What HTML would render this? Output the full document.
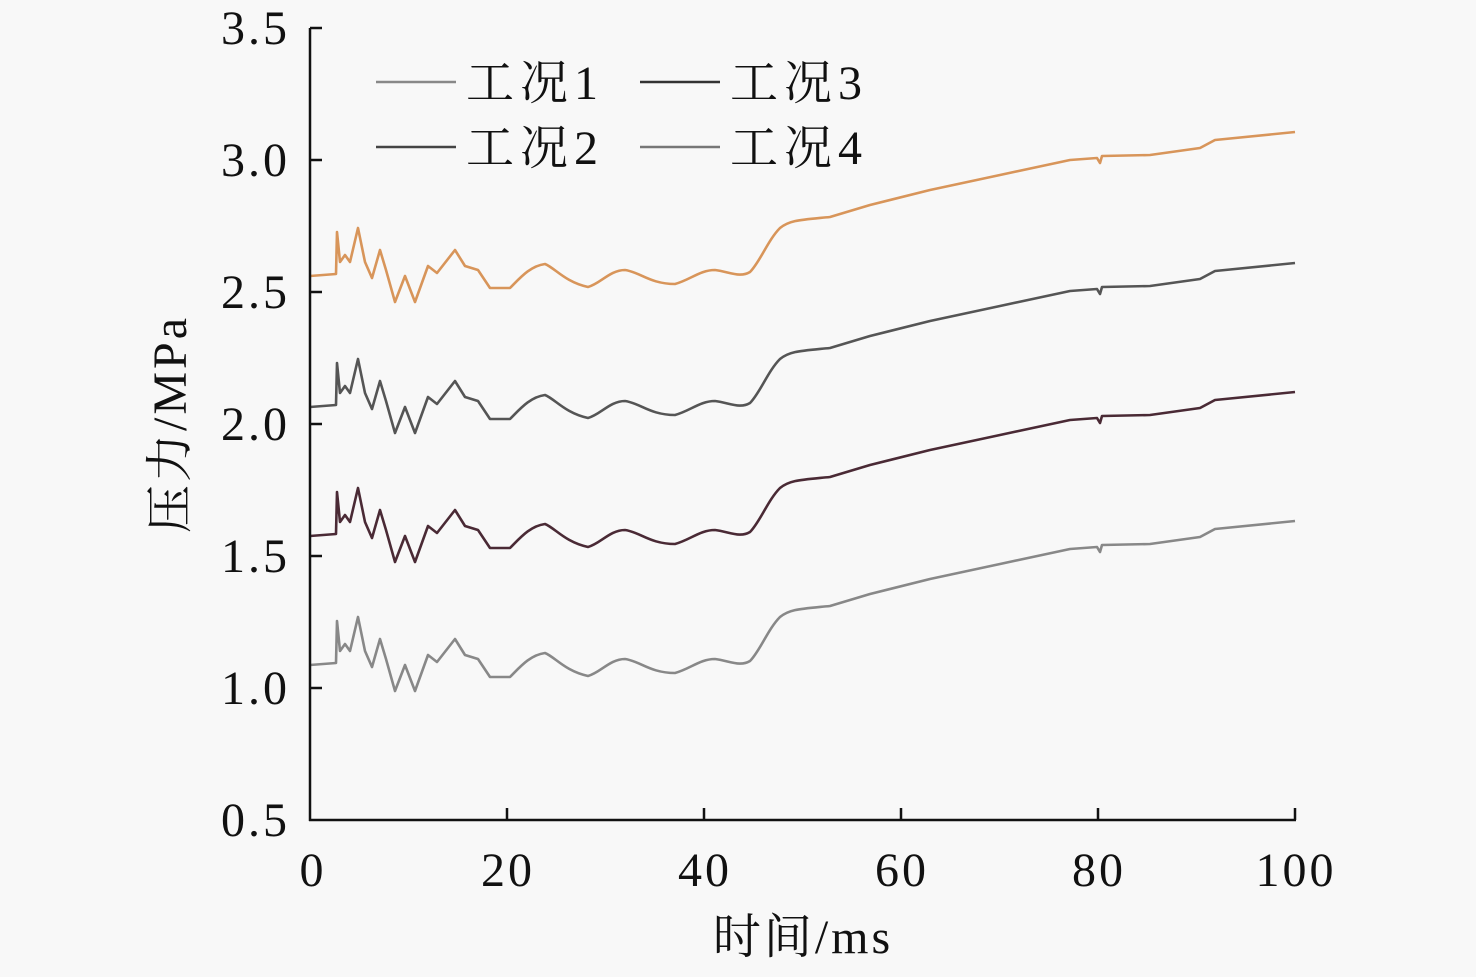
<!DOCTYPE html>
<html><head><meta charset="utf-8"><style>
html,body{margin:0;padding:0;background:#f8f8f8;}
svg text{font-family:"Liberation Serif","Noto Serif CJK SC",serif;fill:#111;}
</style></head><body>
<svg width="1476" height="972" viewBox="0 0 1476 972" xmlns="http://www.w3.org/2000/svg">
<rect width="1476" height="972" fill="#f8f8f8"/>
<defs>
<path id="c" fill="none" stroke-width="2.6" stroke-linejoin="round" d="M310,276 L336,274 L337,232 L340,262 L345,255 L350,262 L358,228 L365,262 L372,278 L380,250 L386,270 L395,302 L405,276 L415,302 L428,266 L437,273 L455,250 L465,266 L478,270 L490,288 L510,288 C520,278 530,266 545,264 C555,268 565,282 588,287 C600,284 610,270 625,270 C640,272 650,284 675,284 C690,280 700,270 715,270 C730,272 740,278 750,272 C760,262 768,240 780,228 C790,220 800,220 830,217 L870,205 L930,190 L1000,175 L1070,160 L1097,158 L1100,163 L1102,156 L1150,155 L1200,148 L1215,140 L1295,132"/>
</defs>
<use href="#c" stroke="#d8955a"/>
<use href="#c" stroke="#555" transform="translate(0,131)"/>
<use href="#c" stroke="#4a2a35" transform="translate(0,260)"/>
<use href="#c" stroke="#888" transform="translate(0,389)"/>
<g stroke="#111" stroke-width="2.5">
<line x1="310" y1="28" x2="310" y2="821"/>
<line x1="309" y1="820" x2="1296" y2="820"/>
<line x1="310" y1="28" x2="322" y2="28"/><line x1="310" y1="160" x2="322" y2="160"/>
<line x1="310" y1="292" x2="322" y2="292"/><line x1="310" y1="424" x2="322" y2="424"/>
<line x1="310" y1="556" x2="322" y2="556"/><line x1="310" y1="688" x2="322" y2="688"/>
<line x1="507" y1="820" x2="507" y2="808"/><line x1="704" y1="820" x2="704" y2="808"/>
<line x1="901" y1="820" x2="901" y2="808"/><line x1="1098" y1="820" x2="1098" y2="808"/>
<line x1="1295" y1="820" x2="1295" y2="808"/>
</g>
<g font-size="48" text-anchor="end" letter-spacing="3">
<text x="290" y="44">3.5</text><text x="290" y="176">3.0</text><text x="290" y="308">2.5</text>
<text x="290" y="440">2.0</text><text x="290" y="572">1.5</text><text x="290" y="704">1.0</text>
<text x="290" y="836">0.5</text>
</g>
<g font-size="48" text-anchor="middle" letter-spacing="3">
<text x="313" y="886">0</text><text x="508" y="886">20</text><text x="705" y="886">40</text>
<text x="902" y="886">60</text><text x="1099" y="886">80</text><text x="1296" y="886">100</text>
</g>
<text x="803" y="953" font-size="48" text-anchor="middle" letter-spacing="3">时间/ms</text>
<text transform="translate(186,424) rotate(-90)" font-size="48" text-anchor="middle" letter-spacing="3">压力/MPa</text>
<g stroke-width="2.5">
<line x1="376" y1="82" x2="456" y2="82" stroke="#888"/>
<line x1="376" y1="147" x2="456" y2="147" stroke="#444"/>
<line x1="640" y1="82" x2="720" y2="82" stroke="#333"/>
<line x1="640" y1="147" x2="720" y2="147" stroke="#777"/>
</g>
<g font-size="48" letter-spacing="6">
<text x="466" y="99">工况1</text><text x="466" y="164">工况2</text>
<text x="730" y="99">工况3</text><text x="730" y="164">工况4</text>
</g>
</svg>
</body></html>
